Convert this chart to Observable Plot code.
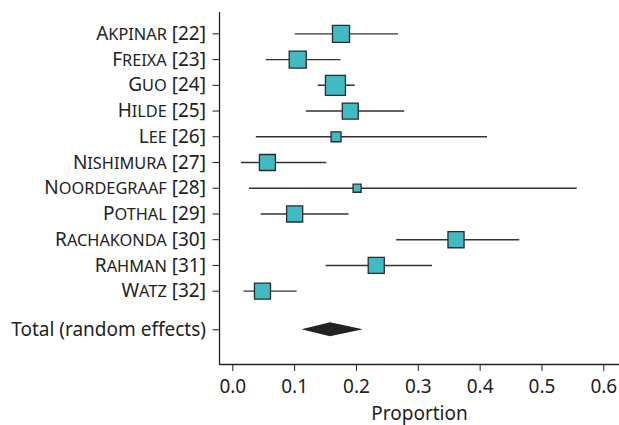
<!DOCTYPE html>
<html>
<head>
<meta charset="utf-8">
<script src="https://cdn.jsdelivr.net/npm/d3@7"></script>
<script src="https://cdn.jsdelivr.net/npm/@observablehq/plot@0.6"></script>
<style>
  html, body { margin: 0; padding: 0; background: #fff; }
  svg { font-family: "Noto Sans", sans-serif; }
  .sc { font-size: 0.86em; text-transform: uppercase; }
</style>
</head>
<body>
<div id="chart"></div>
<script>
const studies = ["Akpinar [22]", "Freixa [23]", "Guo [24]", "Hilde [25]", "Lee [26]", "Nishimura [27]", "Noordegraaf [28]", "Pothal [29]", "Rachakonda [30]", "Rahman [31]", "Watz [32]"];
const estimates = [0.175, 0.105, 0.166, 0.190, 0.167, 0.056, 0.201, 0.100, 0.361, 0.232, 0.048];
const lower     = [0.101, 0.054, 0.138, 0.119, 0.038, 0.014, 0.027, 0.046, 0.265, 0.151, 0.018];
const upper     = [0.268, 0.175, 0.198, 0.278, 0.412, 0.152, 0.557, 0.188, 0.464, 0.323, 0.104];
const weights   = [10.8, 10.8, 14.9, 9.5, 3.7, 9.5, 2.4, 9.6, 9.6, 9.6, 9.6];
const totalLabel = "Total (random effects)";
const totalEst = 0.158, totalLower = 0.112, totalUpper = 0.211;
const xTicks = [0, 0.1, 0.2, 0.3, 0.4, 0.5, 0.6];

const rows = studies.map((s, i) => ({study: s, pos: i + 1, est: estimates[i], lo: lower[i], hi: upper[i], w: weights[i]}));
const totalPos = studies.length + 1.5;
const half = 0.27;
const diamond = [
  {y: totalPos - half, x1: totalEst, x2: totalEst},
  {y: totalPos, x1: totalLower, x2: totalUpper},
  {y: totalPos + half, x1: totalEst, x2: totalEst}
];
const xDom = [-0.0215, 0.6254];
const yDom = [0.17, 13.85];

const plot = Plot.plot({
  width: 619,
  height: 425,
  marginLeft: 219,
  marginRight: 0,
  marginTop: 12,
  marginBottom: 61,
  style: {fontSize: "19px", color: "#222", fontFamily: "'Noto Sans', sans-serif"},
  x: {domain: xDom},
  y: {domain: yDom, axis: null, reverse: true},
  r: {type: "sqrt", domain: [0, 14.9], range: [0, 11.3]},
  marks: [
    Plot.ruleX([xDom[0]], {stroke: "#222", strokeWidth: 1.3}),
    Plot.ruleY([yDom[1]], {stroke: "#222", strokeWidth: 1.3}),
    Plot.axisX({ticks: xTicks, tickFormat: d3.format(".1f"), tickSize: 7, tickPadding: 8, label: "Proportion", labelAnchor: "center", labelArrow: "none", labelOffset: 55, fontSize: 19}),
    Plot.axisY({ticks: rows.map(d => d.pos), tickFormat: p => studies[p - 1], tickSize: 6.5, tickPadding: 7, label: null, className: "study-axis", fontSize: 19}),
    Plot.axisY({ticks: [totalPos], tickFormat: () => totalLabel, tickSize: 6.5, tickPadding: 7, label: null, fontSize: 19}),
    Plot.ruleY(rows, {y: "pos", x1: "lo", x2: "hi", stroke: "#333", strokeWidth: 1.4}),
    Plot.dot(rows, {x: "est", y: "pos", r: "w", symbol: "square", fill: "#40BAC3", stroke: "#2a2a2a", strokeWidth: 1.3}),
    Plot.areaX(diamond, {y: "y", x1: "x1", x2: "x2", fill: "#222", curve: "linear"})
  ]
});
document.getElementById("chart").appendChild(plot);

// render study names in small caps (first letter full size, rest reduced capitals)
d3.select(plot).selectAll(".study-axis text").each(function() {
  const t = this.textContent;
  const m = t.match(/^(\S)(\S*)(.*)$/);
  if (!m) return;
  const sel = d3.select(this);
  sel.text(null);
  sel.append("tspan").text(m[1]);
  sel.append("tspan").attr("class", "sc").text(m[2]);
  sel.append("tspan").text(m[3]);
});
</script>
</body>
</html>
